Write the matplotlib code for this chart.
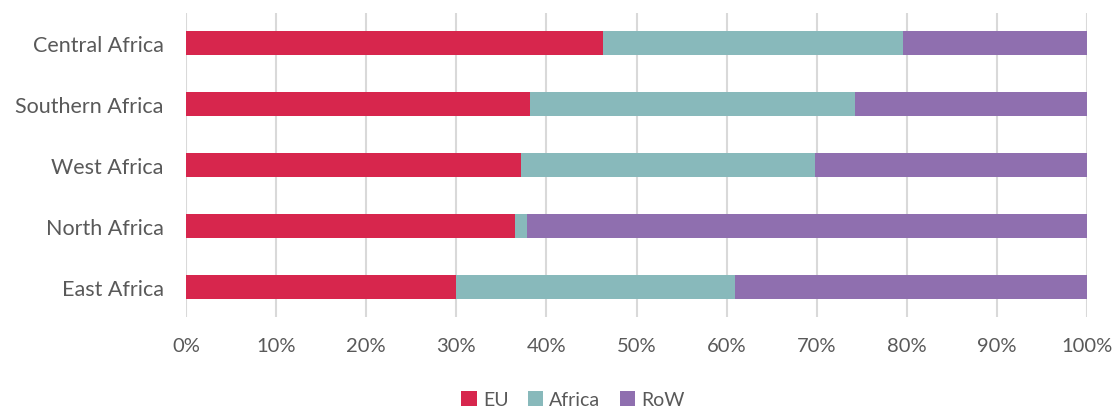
import matplotlib.pyplot as plt
import numpy as np

# regions, bottom to top as drawn
regions = ["East Africa", "North Africa", "West Africa", "Southern Africa", "Central Africa"]
eu = [30.0, 36.5, 37.2, 38.2, 46.3]
africa = [30.9, 1.4, 32.6, 36.1, 33.3]
row = [100 - a - b for a, b in zip(eu, africa)]

colors = {"EU": "#D7264D", "Africa": "#88B9BB", "RoW": "#8F6FAF"}
text_col = "#595959"

plt.rcParams['font.family'] = ['Lato', 'DejaVu Sans']

fig = plt.figure(figsize=(11.17, 4.14), dpi=100)
ax = fig.add_axes([0.1665, 0.2307, 0.8067, 0.7363])

y = np.arange(len(regions))
h = 0.4
ax.barh(y, eu, height=h, color=colors["EU"], label="EU", zorder=3)
ax.barh(y, africa, left=eu, height=h, color=colors["Africa"], label="Africa", zorder=3)
ax.barh(y, row, left=np.array(eu) + np.array(africa), height=h,
        color=colors["RoW"], label="RoW", zorder=3)

ax.set_xlim(0, 100)
ax.set_ylim(-0.5, 4.5)
ax.set_xticks(np.arange(0, 101, 10))
ax.set_xticklabels([f"{v}%" for v in range(0, 101, 10)])
ax.set_yticks(y)
ax.set_yticklabels(regions)
ax.grid(axis='x', color="#D9D9D9", linewidth=1.5, zorder=0)
for s in ax.spines.values():
    s.set_visible(False)
ax.tick_params(axis='both', length=0, labelcolor=text_col)
ax.tick_params(axis='x', pad=14, labelsize=14.5)
ax.tick_params(axis='y', pad=16, labelsize=15.5)

leg = fig.legend(loc='center', bbox_to_anchor=(0.513, 0.033), ncol=3, frameon=False,
                 fontsize=14, handlelength=0.8, handleheight=0.8, handletextpad=0.3,
                 columnspacing=1.0)
for t in leg.get_texts():
    t.set_color(text_col)

fig.savefig("out.png", dpi=100)
